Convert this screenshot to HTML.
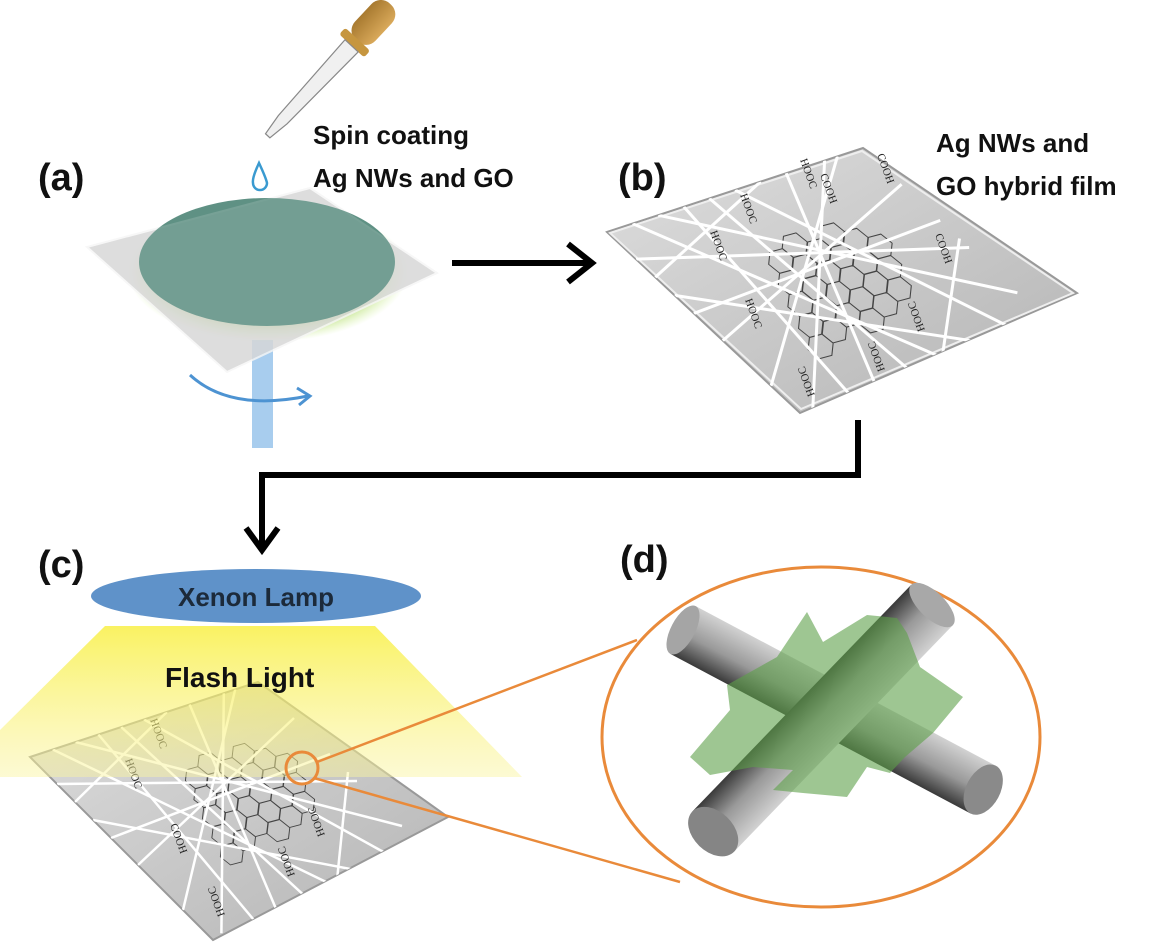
<!DOCTYPE html>
<html><head><meta charset="utf-8"><style>
html,body{margin:0;padding:0;background:#fff;}
svg{display:block;}
text{font-family:"Liberation Sans",sans-serif;font-weight:bold;fill:#111;}
.w line{vector-effect:non-scaling-stroke;}
.lb{font-family:"Liberation Serif",serif;font-weight:normal;font-size:11px;fill:#222;}
</style></head><body>
<svg width="1166" height="950" viewBox="0 0 1166 950" xmlns="http://www.w3.org/2000/svg">
<defs>
<linearGradient id="yl" x1="0" y1="0" x2="0" y2="1">
<stop offset="0" stop-color="#f8ef3c" stop-opacity="0.95"/>
<stop offset="1" stop-color="#faf4a0" stop-opacity="0.55"/>
</linearGradient>
<linearGradient id="film" x1="0" y1="0" x2="1" y2="1">
<stop offset="0" stop-color="#dedede"/><stop offset="1" stop-color="#b4b4b4"/>
</linearGradient>
<linearGradient id="r1" x1="0" y1="0" x2="0" y2="1">
<stop offset="0" stop-color="#d2d2d2"/><stop offset="0.55" stop-color="#999"/><stop offset="1" stop-color="#3a3a3a"/>
</linearGradient>
<linearGradient id="bulb" x1="0" y1="0" x2="0" y2="1">
<stop offset="0" stop-color="#d9a95a"/><stop offset="1" stop-color="#a87a30"/>
</linearGradient>
<radialGradient id="glow" cx="0.5" cy="0.5" r="0.5">
<stop offset="0.75" stop-color="#9ad04a" stop-opacity="0.8"/><stop offset="1" stop-color="#c8ec80" stop-opacity="0"/>
</radialGradient>
<g id="wires" class="w" stroke="#fff" fill="none">
<line x1="0" y1="0.15" x2="1" y2="0.55"/><line x1="0.1" y1="0" x2="0.6" y2="1"/>
<line x1="0.3" y1="0" x2="0.2" y2="1"/><line x1="0" y1="0.6" x2="1" y2="0.2"/>
<line x1="0.5" y1="0" x2="0.9" y2="1"/><line x1="0" y1="0.35" x2="0.8" y2="1"/>
<line x1="0.7" y1="0" x2="0.3" y2="1"/><line x1="0.2" y1="0" x2="1" y2="0.8"/>
<line x1="0" y1="0.85" x2="0.9" y2="0"/><line x1="0.85" y1="0" x2="0.05" y2="1"/>
<line x1="0" y1="0.45" x2="1" y2="0.4"/><line x1="0.4" y1="0" x2="0.45" y2="1"/>
<line x1="0" y1="0.25" x2="0.6" y2="0"/><line x1="0.55" y1="1" x2="1" y2="0.5"/>
</g>
<g id="go" fill="none" stroke="#444" stroke-width="1">
<path d="M-11,-52 l11.3,6.5 v13 l-11.3,6.5 l-11.3,-6.5 v-13z M11,-52 l11.3,6.5 v13 l-11.3,6.5 l-11.3,-6.5 v-13z M34,-52 l11.3,6.5 v13 l-11.3,6.5 l-11.3,-6.5 v-13z
M-45,-32.5 l11.3,6.5 v13 l-11.3,6.5 l-11.3,-6.5 v-13z M-22,-32.5 l11.3,6.5 v13 l-11.3,6.5 l-11.3,-6.5 v-13z M0,-32.5 l11.3,6.5 v13 l-11.3,6.5 l-11.3,-6.5 v-13z M22,-32.5 l11.3,6.5 v13 l-11.3,6.5 l-11.3,-6.5 v-13z M45,-32.5 l11.3,6.5 v13 l-11.3,6.5 l-11.3,-6.5 v-13z
M-56,-13 l11.3,6.5 v13 l-11.3,6.5 l-11.3,-6.5 v-13z M-34,-13 l11.3,6.5 v13 l-11.3,6.5 l-11.3,-6.5 v-13z M-11,-13 l11.3,6.5 v13 l-11.3,6.5 l-11.3,-6.5 v-13z M11,-13 l11.3,6.5 v13 l-11.3,6.5 l-11.3,-6.5 v-13z M34,-13 l11.3,6.5 v13 l-11.3,6.5 l-11.3,-6.5 v-13z M56,-13 l11.3,6.5 v13 l-11.3,6.5 l-11.3,-6.5 v-13z
M-45,6.5 l11.3,6.5 v13 l-11.3,6.5 l-11.3,-6.5 v-13z M-22,6.5 l11.3,6.5 v13 l-11.3,6.5 l-11.3,-6.5 v-13z M0,6.5 l11.3,6.5 v13 l-11.3,6.5 l-11.3,-6.5 v-13z M22,6.5 l11.3,6.5 v13 l-11.3,6.5 l-11.3,-6.5 v-13z M45,6.5 l11.3,6.5 v13 l-11.3,6.5 l-11.3,-6.5 v-13z
M-34,26 l11.3,6.5 v13 l-11.3,6.5 l-11.3,-6.5 v-13z M-11,26 l11.3,6.5 v13 l-11.3,6.5 l-11.3,-6.5 v-13z M11,26 l11.3,6.5 v13 l-11.3,6.5 l-11.3,-6.5 v-13z M34,26 l11.3,6.5 v13 l-11.3,6.5 l-11.3,-6.5 v-13z
M-22,45.5 l11.3,6.5 v13 l-11.3,6.5 l-11.3,-6.5 v-13z M0,45.5 l11.3,6.5 v13 l-11.3,6.5 l-11.3,-6.5 v-13z M-11,65 l11.3,6.5 v13 l-11.3,6.5 l-11.3,-6.5 v-13z"/>
</g>
<clipPath id="cb"><polygon points="607,232 863,148 1077,293 800,413"/></clipPath>
<clipPath id="cc"><polygon points="30,757 258,682 448,817 213,940"/></clipPath>
</defs>

<!-- pipette -->
<g transform="translate(385,10) rotate(133)">
<rect x="-8" y="-14" width="50" height="28" rx="13" fill="url(#bulb)"/>
<rect x="40" y="-17" width="9" height="34" rx="3" fill="#c6963f"/>
<path d="M49,-9 L150,-6 L172,-3 L172,3 L150,6 L49,9 Z" fill="#f0f0f0" stroke="#888" stroke-width="1.2"/>
</g>
<path d="M259,163 Q252,178 253,183 A7,7 0 0 0 267,183 Q266,178 259,163 Z" fill="#fff" stroke="#3a9ad0" stroke-width="2.5"/>

<text x="313" y="144" font-size="26">Spin coating</text>
<text x="313" y="187" font-size="26">Ag NWs and GO</text>
<text x="38" y="190" font-size="38">(a)</text>

<!-- shaft -->
<rect x="252" y="340" width="21" height="108" fill="#a8cdee"/>
<path d="M190,375 Q230,412 308,396" fill="none" stroke="#4d93d2" stroke-width="3"/>
<path d="M297,388 L310,396 L299,405" fill="none" stroke="#4d93d2" stroke-width="3"/>
<!-- substrate a -->
<ellipse cx="268" cy="272" rx="140" ry="70" fill="url(#glow)"/>
<polygon points="87,247 310,188 437,273 227,372" fill="#d4d4d4" stroke="#f4f4f4" stroke-width="2" opacity="0.8"/>
<ellipse cx="267" cy="262" rx="128" ry="64" fill="#5f9184"/>
<polygon points="87,247 310,188 437,273 227,372" fill="#e8e8e8" stroke="#fff" stroke-width="2" opacity="0.15"/>

<!-- arrow a->b -->
<line x1="452" y1="263" x2="590" y2="263" stroke="#000" stroke-width="6"/>
<path d="M568,244 L592,263 L568,282" fill="none" stroke="#000" stroke-width="6"/>

<text x="618" y="190" font-size="38">(b)</text>
<text x="936" y="152" font-size="26">Ag NWs and</text>
<text x="936" y="195" font-size="26">GO hybrid film</text>

<!-- film b -->
<polygon points="607,232 863,148 1077,293 800,413" fill="url(#film)" stroke="#999" stroke-width="2"/>
<polygon points="610,233 862,151 1073,293 801,409" fill="none" stroke="#eee" stroke-width="2"/>
<g clip-path="url(#cb)">
<g transform="translate(840,275) matrix(1.05,0.25,-0.1,0.95,0,0)"><use href="#go"/></g>
<g transform="matrix(256,-84,193,181,607,232)"><use href="#wires" stroke-width="3"/></g>
</g>
<text class="lb" x="800" y="160" transform="rotate(70 800 160)">HOOC</text>
<text class="lb" x="877" y="155" transform="rotate(70 877 155)">COOH</text>
<text class="lb" x="820" y="175" transform="rotate(70 820 175)">COOH</text>
<text class="lb" x="740" y="195" transform="rotate(70 740 195)">HOOC</text>
<text class="lb" x="710" y="232" transform="rotate(70 710 232)">HOOC</text>
<text class="lb" x="745" y="300" transform="rotate(70 745 300)">HOOC</text>
<text class="lb" x="935" y="235" transform="rotate(70 935 235)">COOH</text>
<text class="lb" x="925" y="330" transform="rotate(250 925 330)">HOOC</text>
<text class="lb" x="885" y="370" transform="rotate(250 885 370)">HOOC</text>
<text class="lb" x="815" y="395" transform="rotate(250 815 395)">HOOC</text>

<!-- connector -->
<polyline points="858,420 858,475 262,475 262,545" fill="none" stroke="#000" stroke-width="6"/>
<path d="M246,528 L262,550 L278,528" fill="none" stroke="#000" stroke-width="6"/>

<text x="38" y="577" font-size="38">(c)</text>
<text x="620" y="572" font-size="38">(d)</text>

<!-- film c -->
<polygon points="30,757 258,682 448,817 213,940" fill="url(#film)" stroke="#999" stroke-width="2"/>
<g clip-path="url(#cc)">
<g transform="translate(250,790) matrix(0.95,0.22,-0.1,0.85,0,0)"><use href="#go"/></g>
<g transform="matrix(228,-75,180,180,30,757)"><use href="#wires" stroke-width="2.5"/></g>
</g>
<text class="lb" x="150" y="720" transform="rotate(70 150 720)">HOOC</text>
<text class="lb" x="125" y="760" transform="rotate(70 125 760)">HOOC</text>
<text class="lb" x="170" y="825" transform="rotate(70 170 825)">COOH</text>
<text class="lb" x="325" y="835" transform="rotate(250 325 835)">HOOC</text>
<text class="lb" x="295" y="875" transform="rotate(250 295 875)">HOOC</text>
<text class="lb" x="225" y="915" transform="rotate(250 225 915)">HOOC</text>

<!-- yellow light -->
<polygon points="105,626 375,626 522,777 0,777 0,730" fill="url(#yl)" opacity="0.85"/>
<ellipse cx="256" cy="596" rx="165" ry="27" fill="#5f92c9"/>
<text x="256" y="606" font-size="26" text-anchor="middle" style="fill:#1c2a3a">Xenon Lamp</text>
<text x="165" y="687" font-size="28">Flash Light</text>

<!-- zoom callout -->
<circle cx="302" cy="768" r="16" fill="none" stroke="#e98a3a" stroke-width="3"/>
<line x1="317" y1="762" x2="637" y2="640" stroke="#e98a3a" stroke-width="2.5"/>
<line x1="314" y1="778" x2="680" y2="882" stroke="#e98a3a" stroke-width="2.5"/>
<ellipse cx="821" cy="737" rx="219" ry="170" fill="#fff" stroke="#e98a3a" stroke-width="3"/>

<!-- rods -->
<g transform="translate(683,630) rotate(28)">
<rect x="0" y="-27" width="340" height="54" fill="url(#r1)"/>
<ellipse cx="0" cy="0" rx="12" ry="27" fill="#a5a5a5"/>
<ellipse cx="340" cy="0" rx="17" ry="27" fill="#8a8a8a"/>
</g>
<g transform="translate(932,605) rotate(134)">
<rect x="0" y="-29" width="315" height="58" fill="url(#r1)"/>
<ellipse cx="0" cy="0" rx="13" ry="29" fill="#a8a8a8"/>
<ellipse cx="315" cy="0" rx="20" ry="29" fill="#858585"/>
</g>
<path d="M807,612 L823,642 L867,615 L897,618 L907,633 L920,667 L963,697 L933,733 L905,757 L890,773 L867,767 L847,797 L803,793 L773,790 L793,770 L753,767 L710,775 L690,757 L730,710 L727,685 L777,657 L793,633 Z" fill="#5ea04a" opacity="0.6"/>
</svg>
</body></html>
